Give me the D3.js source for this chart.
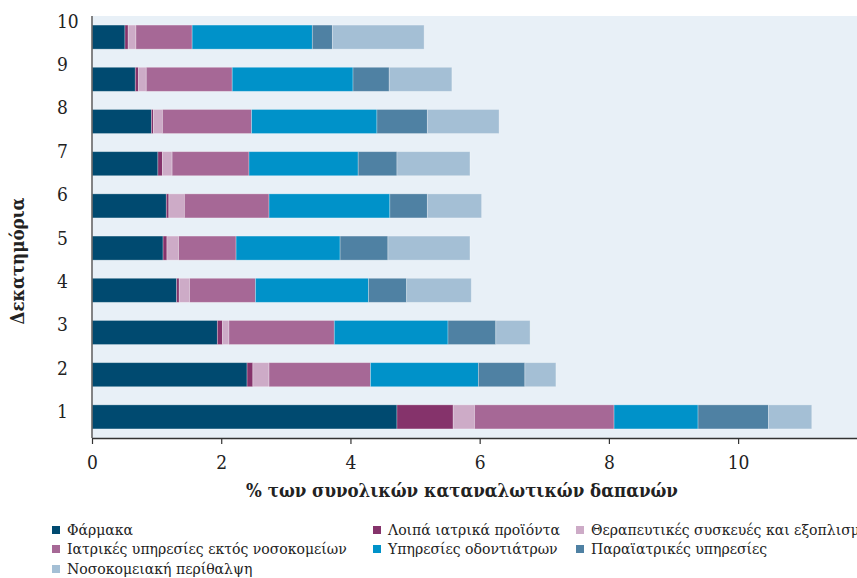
<!DOCTYPE html>
<html><head><meta charset="utf-8">
<script src="https://cdn.jsdelivr.net/npm/d3@7"></script>
<style>
html,body{margin:0;padding:0;background:#fff;}
svg text{font-family:"DejaVu Serif Condensed","DejaVu Serif",serif;font-stretch:condensed;fill:#222;}
</style></head>
<body><svg id="chart" width="857" height="578"></svg>
<script>
const deciles = ["10","9","8","7","6","5","4","3","2","1"];
const seriesNames = ["Φάρμακα","Λοιπά ιατρικά προϊόντα","Θεραπευτικές συσκευές και  εξοπλισμός","Ιατρικές υπηρεσίες εκτός νοσοκομείων","Υπηρεσίες οδοντιάτρων","Παραϊατρικές υπηρεσίες","Νοσοκομειακή περίθαλψη"];
// values per decile, order matches deciles array (10 → 1)
const farmaka      = [0.51,0.67,0.92,1.02,1.15,1.10,1.31,1.94,2.40,4.72];
const loipa        = [0.05,0.05,0.03,0.07,0.04,0.06,0.04,0.08,0.09,0.87];
const therapeutika = [0.12,0.12,0.14,0.15,0.24,0.18,0.16,0.10,0.25,0.33];
const iatrikes     = [0.87,1.33,1.38,1.19,1.31,0.89,1.02,1.63,1.57,2.16];
const odontiatroi  = [1.86,1.87,1.94,1.69,1.87,1.61,1.75,1.76,1.67,1.30];
const paraiatrikes = [0.31,0.56,0.78,0.60,0.58,0.74,0.59,0.74,0.72,1.09];
const nosokomeia   = [1.42,0.97,1.11,1.13,0.84,1.27,1.00,0.53,0.48,0.67];
const xTicks = [0,2,4,6,8,10];
const colors = ["#004a70","#85336b","#cdabc7","#a66896","#0092c9","#4f81a3","#a4bfd5"];

const seriesValues = [farmaka,loipa,therapeutika,iatrikes,odontiatroi,paraiatrikes,nosokomeia];
const rows = deciles.map((d,i)=>{const o={decile:d}; seriesNames.forEach((s,j)=>o[s]=seriesValues[j][i]); return o;});
const stacked = d3.stack().keys(seriesNames)(rows);

const svg = d3.select("#chart");
const pL = 92, pT = 16, pB = 438, pR = 857;
const x = d3.scaleLinear().domain([0, 11.84]).range([pL, pR]);
const y = d3.scaleBand().domain(deciles).range([pT, pB]).paddingInner(0.43).paddingOuter(0.215);
const yLab = d3.scaleBand().domain(deciles).range([-1, 433]);

svg.append("rect").attr("x",pL).attr("y",pT).attr("width",pR-pL).attr("height",pB-pT).attr("fill","#e8f0f7");

svg.append("g").selectAll("g").data(stacked).join("g")
  .attr("fill",(d,i)=>colors[i])
  .selectAll("rect").data(d=>d).join("rect")
  .attr("x",d=>x(d[0])).attr("width",d=>x(d[1])-x(d[0]))
  .attr("y",d=>y(d.data.decile)).attr("height",y.bandwidth())
  .attr("stroke","#ffffff").attr("stroke-opacity",0.35).attr("stroke-width",0.8);

// left axis line
svg.append("line").attr("x1",pL).attr("x2",pL).attr("y1",pT).attr("y2",pB).attr("stroke","#666").attr("stroke-width",1.6);

// bottom axis
const xAxis = svg.append("g").attr("transform",`translate(0,${pB})`)
  .call(d3.axisBottom(x).tickValues(xTicks).tickSize(6).tickSizeOuter(0).tickPadding(12));
xAxis.select(".domain").attr("stroke","#333").attr("stroke-width",1.4);
xAxis.selectAll(".tick line").attr("stroke","#333").attr("stroke-width",1.2);
xAxis.selectAll("text").style("font-size","19px").attr("fill","#222");

// y labels
svg.append("g").selectAll("text").data(deciles).join("text")
  .attr("x",57).attr("y",d=>yLab(d)+yLab.bandwidth()/2).attr("dy","0.36em")
  .style("font-size","19px").text(d=>d);

// titles
svg.append("text").attr("x",462).attr("y",497).attr("text-anchor","middle")
  .style("font-size","18.5px").style("font-weight","bold").text("% των συνολικών καταναλωτικών δαπανών");
svg.append("text").attr("transform","translate(24,261) rotate(-90)").attr("text-anchor","middle")
  .style("font-size","18.5px").style("font-weight","bold").text("Δεκατημόρια");

// legend
const legendCols = [52,373,576];
const legendRows = [530,549,569];
const lg = svg.append("g").selectAll("g").data(seriesNames).join("g")
  .attr("transform",(d,i)=>`translate(${legendCols[i%3]},${legendRows[Math.floor(i/3)]})`);
lg.append("rect").attr("x",0).attr("y",-4).attr("width",8).attr("height",8).attr("fill",(d,i)=>colors[i]);
lg.append("text").attr("x",15).attr("y",0).attr("dy","0.35em").style("font-size","15.6px").text(d=>d);
</script></body></html>
